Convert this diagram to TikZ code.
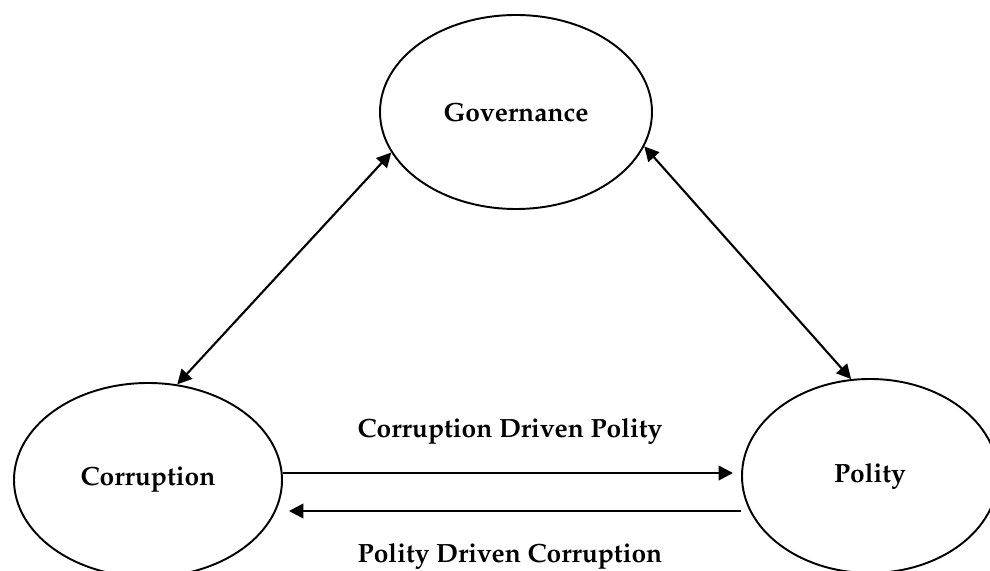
\documentclass[tikz,border=0pt]{standalone}
\usepackage[T1]{fontenc}
\usepackage{mathpazo}
\usepackage{tikz}
\usetikzlibrary{shapes.geometric, positioning, arrows.meta}

\tikzset{
    blob/.style={draw, ellipse, line width=1.1pt, font=\fontsize{15}{18}\selectfont\bfseries},
    arr/.style={line width=1.5pt, -{Triangle[length=2.9mm, width=2.9mm]}},
    biarr/.style={line width=1.2pt, {Triangle[length=2.9mm, width=2.9mm]}-{Triangle[length=2.9mm, width=2.9mm]}},
    lbl/.style={font=\fontsize{15}{18}\selectfont\bfseries}
}

\begin{document}
\begin{tikzpicture}
    \useasboundingbox (0,0) rectangle (19.8,11.4);

    \node[blob, minimum width=5.44cm, minimum height=3.88cm] (gov) at (10.32,9.16) {Governance};
    \node[blob, minimum width=5.36cm, minimum height=3.88cm] (cor) at (2.96,1.80) {Corruption};
    \node[blob, minimum width=5.12cm, minimum height=3.88cm] (pol) at (17.40,1.88) {Polity};

    % links to governance
    \draw[biarr] (gov.198) -- (cor.73);
    \draw[biarr] (gov.-15) -- (pol.101);

    % the two flows below
    \coordinate (c1) at ([yshift=1.4mm]cor.east);
    \coordinate (p1) at ([yshift=-7mm]pol.west);
    \draw[arr, shorten >=1.6mm] (c1) -- (c1 -| pol.west);
    \draw[arr, shorten >=1.2mm] (p1) -- (p1 -| cor.east);

    \node[lbl] at (10.2,2.78) {Corruption Driven Polity};
    \node[lbl] at (10.2,0.28) {Polity Driven Corruption};
\end{tikzpicture}
\end{document}
